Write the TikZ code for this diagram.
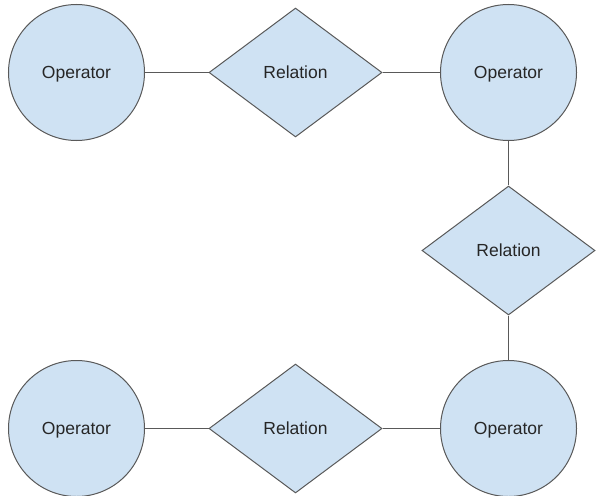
\documentclass[tikz,border=0pt]{standalone}
\usepackage{fontspec}
\setmainfont{Liberation Sans}
\usetikzlibrary{shapes.geometric}
\definecolor{fundo}{HTML}{CFE2F3}
\definecolor{borda}{HTML}{595959}
\tikzset{
	oper/.style={circle, draw=borda, fill=fundo, line width=1pt, minimum size=136pt, inner sep=0pt, text height=12.3pt, text depth=0pt, font=\fontsize{17.5}{20}\selectfont, text=black!85},
	rel/.style={diamond, draw=borda, fill=fundo, line width=1pt, minimum width=173pt, minimum height=129pt, inner sep=0pt, text height=12.3pt, text depth=0pt, font=\fontsize{17.5}{20}\selectfont, text=black!85},
	liga/.style={draw=borda, line width=1pt}
}
\begin{document}
\begin{tikzpicture}[x=1pt, y=-1pt]
		\useasboundingbox (0,0) rectangle (596,495);					% Margens
		
		% Operadores
		\node[oper] (o1) at (76.5,72.5)		{Operator};
		\node[oper] (o2) at (508.5,72.5)	{Operator};
		\node[oper] (o3) at (76.5,428.5)	{Operator};
		\node[oper] (o4) at (508.5,428.5)	{Operator};
		
		% Relações
		\node[rel] (r1) at (295.5,72.5)		{Relation};
		\node[rel] (r2) at (508.5,250.5)	{Relation};
		\node[rel] (r3) at (295.5,428.5)	{Relation};
		
		% Ligações
		\draw[liga] (o1) -- (r1);
		\draw[liga] (r1) -- (o2);
		\draw[liga] (o2) -- (r2);
		\draw[liga] (r2) -- (o4);
		\draw[liga] (o3) -- (r3);
		\draw[liga] (r3) -- (o4);
	\end{tikzpicture}
\end{document}
